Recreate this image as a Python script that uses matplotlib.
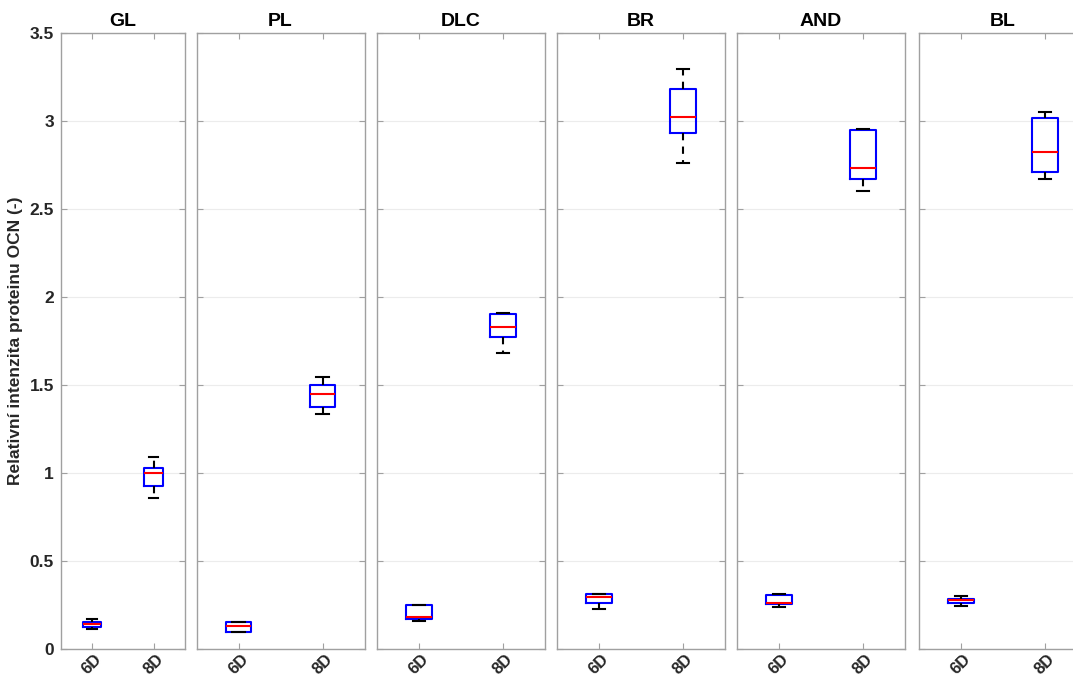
import matplotlib
matplotlib.use("Agg")
import matplotlib.pyplot as plt

plt.rcParams['font.family'] = ['Liberation Sans', 'DejaVu Sans']
plt.rcParams['font.weight'] = 'bold'

# Groups and time points
groups = ["GL", "PL", "DLC", "BR", "AND", "BL"]
days = ["6D", "8D"]

# Box statistics per group: [6D, 8D]
whis_lo = {"GL": [0.114, 0.860], "PL": [0.098, 1.333], "DLC": [0.159, 1.684],
           "BR": [0.226, 2.760], "AND": [0.241, 2.602], "BL": [0.246, 2.668]}
q1 = {"GL": [0.127, 0.926], "PL": [0.098, 1.373], "DLC": [0.170, 1.775],
      "BR": [0.260, 2.934], "AND": [0.256, 2.668], "BL": [0.260, 2.712]}
median = {"GL": [0.142, 1.002], "PL": [0.131, 1.449], "DLC": [0.182, 1.828],
          "BR": [0.297, 3.021], "AND": [0.263, 2.731], "BL": [0.277, 2.826]}
q3 = {"GL": [0.155, 1.030], "PL": [0.155, 1.502], "DLC": [0.250, 1.903],
      "BR": [0.3125, 3.180], "AND": [0.305, 2.949], "BL": [0.286, 3.019]}
whis_hi = {"GL": [0.168, 1.093], "PL": [0.155, 1.544], "DLC": [0.250, 1.911],
           "BR": [0.3125, 3.294], "AND": [0.3125, 2.955], "BL": [0.301, 3.053]}

yticks = [0, 0.5, 1, 1.5, 2, 2.5, 3, 3.5]
ytick_labels = ["0", "0.5", "1", "1.5", "2", "2.5", "3", "3.5"]

W, H = 1073, 679
fig = plt.figure(figsize=(W / 100, H / 100), dpi=100)

# panel extents in pixels (left, right)
panels_px = [(61, 184.7), (196.5, 364.5), (377, 545), (557, 725), (737, 905), (919, 1087)]
top_px, bottom_px = 33, 649

edge = '#a0a0a0'
txt = '#262626'

axes = []
for i, (g, (l, r)) in enumerate(zip(groups, panels_px)):
    ax = fig.add_axes([l / W, 1 - bottom_px / H, (r - l) / W, (bottom_px - top_px) / H])
    stats = []
    for j, d in enumerate(days):
        stats.append(dict(label=d, med=median[g][j], q1=q1[g][j], q3=q3[g][j],
                          whislo=whis_lo[g][j], whishi=whis_hi[g][j], fliers=[]))
    ax.bxp(stats, positions=[1, 2], widths=0.3, showfliers=False,
           boxprops=dict(color='#0000ff', linewidth=1.5),
           medianprops=dict(color='#ff0000', linewidth=1.5),
           whiskerprops=dict(color='black', linewidth=1.5, linestyle=(0, (3.5, 3))),
           capprops=dict(color='black', linewidth=1.5))
    ax.set_xlim(0.5, 2.5)
    ax.set_ylim(0, 3.5)
    ax.set_yticks(yticks)
    ax.set_xticks([1, 2])
    ax.set_xticklabels(days, rotation=45, ha='center', fontsize=12,
                       fontweight='bold', color=txt)
    if i == 0:
        ax.set_yticklabels(ytick_labels, fontsize=12.5, fontweight='bold', color=txt)
        ax.set_ylabel("Relativní intenzita proteinu OCN (-)", fontsize=12.5,
                      fontweight='bold', color=txt, labelpad=5)
    else:
        ax.set_yticklabels([])
    ax.tick_params(direction='in', length=4, width=0.8, color=edge,
                   top=True, right=True, pad=5)
    ax.tick_params(axis='x', pad=2)
    ax.yaxis.grid(True, color='#ececec', linewidth=0.8)
    ax.set_axisbelow(True)
    for s in ax.spines.values():
        s.set_color(edge)
        s.set_linewidth(1.0)
    ax.set_title(g, fontsize=14, fontweight='bold', color='black', pad=5)
    axes.append(ax)

fig.savefig("out.png", dpi=100, facecolor='white')
